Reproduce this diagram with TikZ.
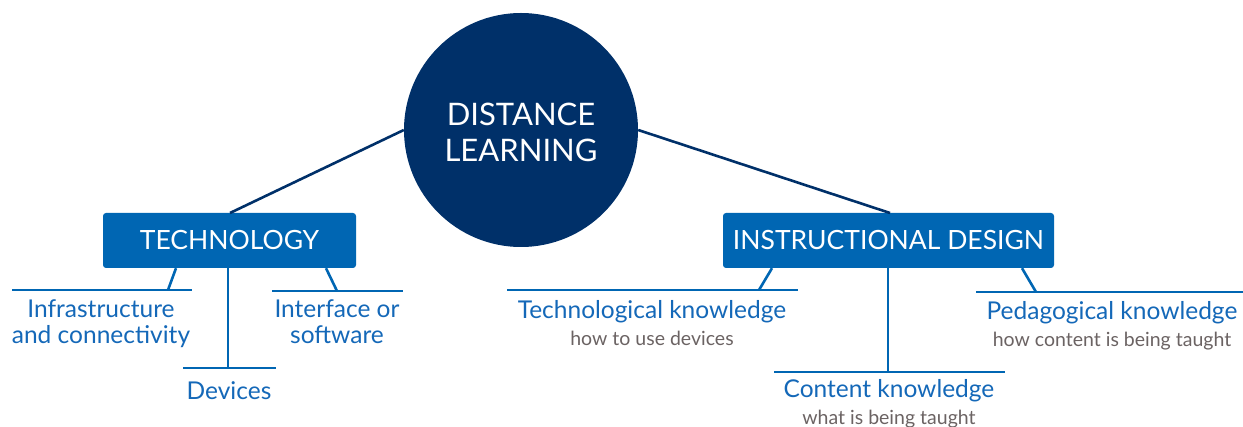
\documentclass[tikz,border=0pt]{standalone}
\usepackage{fontspec}
\setmainfont{Lato}
\definecolor{navy}{HTML}{003069}
\definecolor{boxblue}{HTML}{0066B3}
\definecolor{txtblue}{HTML}{1468B8}
\definecolor{subgray}{HTML}{6B6363}
\begin{document}
\begin{tikzpicture}[x=1pt,y=-1pt,
  hub/.style={circle,fill=navy,minimum size=234pt,inner sep=0pt,text=white,align=center,font=\fontsize{31}{36}\selectfont},
  catbox/.style={rectangle,rounded corners=3pt,fill=boxblue,text=white,inner sep=0pt,font=\fontsize{26.5}{28}\selectfont},
  leaf/.style={text=txtblue,align=center,anchor=base,inner sep=0pt,font=\fontsize{24.5}{26}\selectfont},
  sub/.style={text=subgray,anchor=base,inner sep=0pt,font=\fontsize{19.5}{20}\selectfont},
  navyline/.style={draw=navy,line width=2.6pt},
  blueline/.style={draw=boxblue,line width=2.6pt}]
\useasboundingbox (0,0) rectangle (1243,427);
\node[hub] (hub) at (521,130) {};
\node[text=white,align=center,font=\fontsize{31}{36}\selectfont,inner sep=0pt,anchor=base] (hubtxt) at (521,162) {DISTANCE\\LEARNING};
\node[catbox,minimum width=253pt,minimum height=55pt] (tech) at (229.5,240.5) {TECHNOLOGY};
\node[catbox,minimum width=331pt,minimum height=55pt] (inst) at (888.5,240.5) {INSTRUCTIONAL DESIGN};
\draw[navyline] (hub.180) -- (230,213);
\draw[navyline] (hub.0) -- (890,213);
% technology bars
\coordinate (b1l) at (12,290); \coordinate (b1r) at (192,290);
\coordinate (b2l) at (183,368); \coordinate (b2r) at (276,368);
\coordinate (b3l) at (272,291); \coordinate (b3r) at (403,291);
\draw[blueline] (b1l) -- (b1r);
\draw[blueline] (b2l) -- (b2r);
\draw[blueline] (b3l) -- (b3r);
\draw[blueline] (tech.south -| 176,0) -- (168,290);
\draw[blueline] (tech.south -| 228,0) -- (228,368);
\draw[blueline] (tech.south -| 326,0) -- (337,291);
\node[leaf] (infra) at (101,344) {Infrastructure\\and connectivity};
\node[leaf] (dev) at (229,400) {Devices};
\node[leaf] (intf) at (337,344) {Interface or\\software};
% instructional bars
\coordinate (c1l) at (507,290); \coordinate (c1r) at (798,290);
\coordinate (c2l) at (774,372); \coordinate (c2r) at (1005,372);
\coordinate (c3l) at (976,292); \coordinate (c3r) at (1243,292);
\draw[blueline] (c1l) -- (c1r);
\draw[blueline] (c2l) -- (c2r);
\draw[blueline] (c3l) -- (c3r);
\draw[blueline] (inst.south -| 772,0) -- (759,290);
\draw[blueline] (inst.south -| 888,0) -- (888,372);
\draw[blueline] (inst.south -| 1022,0) -- (1036,292);
\node[leaf] (tk) at (652,319) {Technological knowledge};
\node[sub] (tks) at (652,346) {how to use devices};
\node[leaf] (ck) at (889,398) {Content knowledge};
\node[sub] (cks) at (889,425) {what is being taught};
\node[leaf] (pk) at (1112,320) {Pedagogical knowledge};
\node[sub] (pks) at (1112,347) {how content is being taught};
\end{tikzpicture}
\end{document}
